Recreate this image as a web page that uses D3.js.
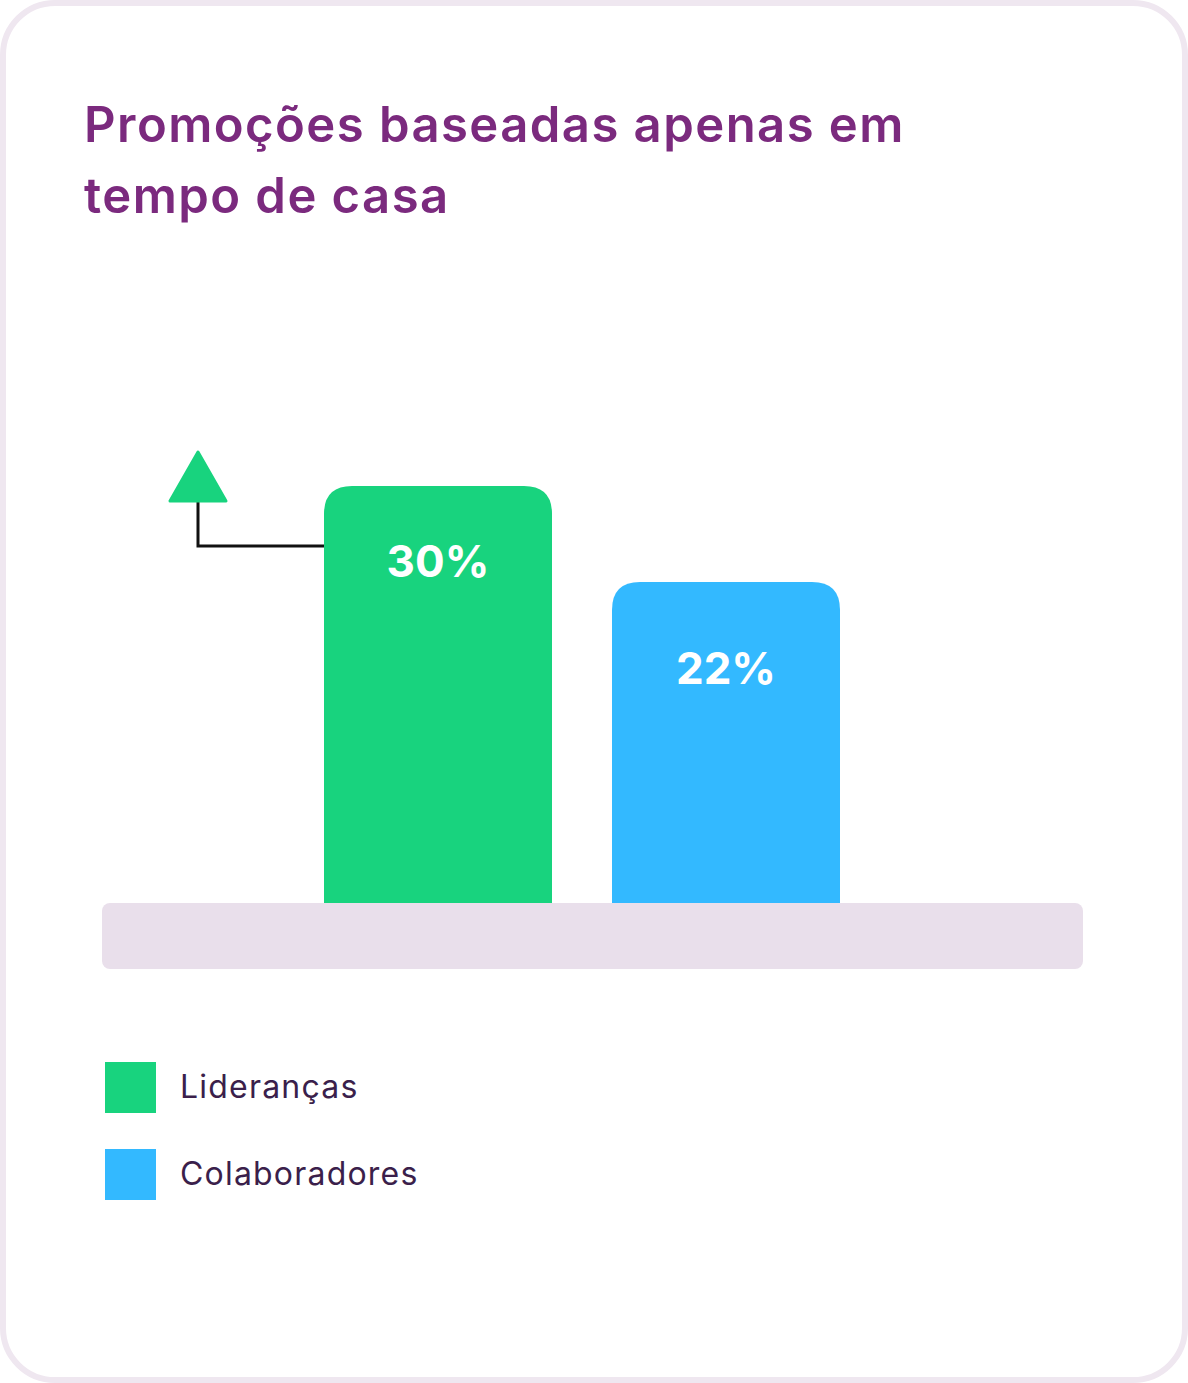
<!DOCTYPE html>
<html>
<head>
<meta charset="utf-8">
<script src="https://cdn.jsdelivr.net/npm/d3@7"></script>
<style>
    html, body { margin: 0; padding: 0; background: #ffffff; }
    svg { display: block; }
</style>
</head>
<body>
<div class="chart-promocoes"></div>
<script>
// chart data
const categories = ['Lideranças', 'Colaboradores'];
const values = [30, 22];
const valueLabels = ['30%', '22%'];
const colors = ['#18d37e', '#33b9ff'];
const titleLines = ['Promoções baseadas apenas em', 'tempo de casa'];

const width = 1188, height = 1383;

let svg = d3.select('.chart-promocoes').append('svg')
    .attr('width', width)
    .attr('height', height);

// card background + border
svg.append('rect')
    .attr('x', 3).attr('y', 3)
    .attr('width', width - 6).attr('height', height - 6)
    .attr('rx', 52).attr('ry', 52)
    .attr('fill', '#ffffff')
    .attr('stroke', '#efe7f0')
    .attr('stroke-width', 6);

// title
let title = svg.append('text')
    .attr('x', 84)
    .attr('fill', '#7b2a7e')
    .attr('style', 'font-family: Inter, sans-serif; font-weight: 600; font-size: 49px; letter-spacing: 1.45px;');
titleLines.forEach(function(line, i) {
    title.append('tspan')
        .attr('x', 84)
        .attr('y', 142 + i * 71)
        .text(line);
});

// scales
let baseY = 903;
let x = d3.scaleBand()
    .domain(categories)
    .range([294, 870])
    .paddingInner(60 / 288)
    .paddingOuter(30 / 288);
let y = d3.scaleLinear()
    .domain([-4.75, 30])
    .range([baseY, 486]);

// bar path with rounded top corners
function topRounded(x0, y0, w, h, r) {
    return 'M' + x0 + ',' + (y0 + h) +
        'V' + (y0 + r) +
        'Q' + x0 + ',' + y0 + ' ' + (x0 + r) + ',' + y0 +
        'H' + (x0 + w - r) +
        'Q' + (x0 + w) + ',' + y0 + ' ' + (x0 + w) + ',' + (y0 + r) +
        'V' + (y0 + h) + 'Z';
}

let chartLayer = svg.append('g').classed('chartLayer', true);

chartLayer.selectAll('.bar')
    .data(categories)
    .enter().append('path')
    .attr('class', 'bar')
    .attr('fill', function(d, i) { return colors[i]; })
    .attr('d', function(d, i) {
        return topRounded(x(d), y(values[i]), x.bandwidth(), baseY - y(values[i]), 28);
    });

chartLayer.selectAll('.value')
    .data(categories)
    .enter().append('text')
    .attr('class', 'value')
    .attr('x', function(d) { return x(d) + x.bandwidth() / 2; })
    .attr('y', function(d, i) { return y(values[i]) + 91 + i * 11; })
    .attr('text-anchor', 'middle')
    .attr('fill', '#ffffff')
    .attr('style', 'font-family: Inter, sans-serif; font-weight: 700; font-size: 44px;')
    .text(function(d, i) { return valueLabels[i]; });

// base band
svg.append('rect')
    .attr('x', 102).attr('y', baseY)
    .attr('width', 981).attr('height', 66)
    .attr('rx', 8).attr('ry', 8)
    .attr('fill', '#e9dfeb');

// connector + arrow from the first bar
let connY = 546, arrowX = 198;
svg.append('path')
    .attr('d', 'M' + x(categories[0]) + ',' + connY + 'H' + arrowX + 'V' + 500)
    .attr('fill', 'none')
    .attr('stroke', '#111111')
    .attr('stroke-width', 3);
svg.append('path')
    .attr('d', 'M' + arrowX + ',452 L' + (arrowX + 28) + ',501 L' + (arrowX - 28) + ',501 Z')
    .attr('fill', colors[0])
    .attr('stroke', colors[0])
    .attr('stroke-width', 3)
    .attr('stroke-linejoin', 'round');

// legend
let legend = svg.append('g').attr('transform', 'translate(105, 1062)');
let items = legend.selectAll('.legend-item')
    .data(categories)
    .enter().append('g')
    .attr('class', 'legend-item')
    .attr('transform', function(d, i) { return 'translate(0,' + (i * 87) + ')'; });
items.append('rect')
    .attr('width', 51).attr('height', 51)
    .attr('fill', function(d, i) { return colors[i]; });
items.append('text')
    .attr('x', 75)
    .attr('y', 36)
    .attr('fill', '#3b1f4b')
    .attr('style', 'font-family: Inter, sans-serif; font-weight: 400; font-size: 32px; letter-spacing: 1.2px;')
    .text(function(d) { return d; });
</script>
</body>
</html>
